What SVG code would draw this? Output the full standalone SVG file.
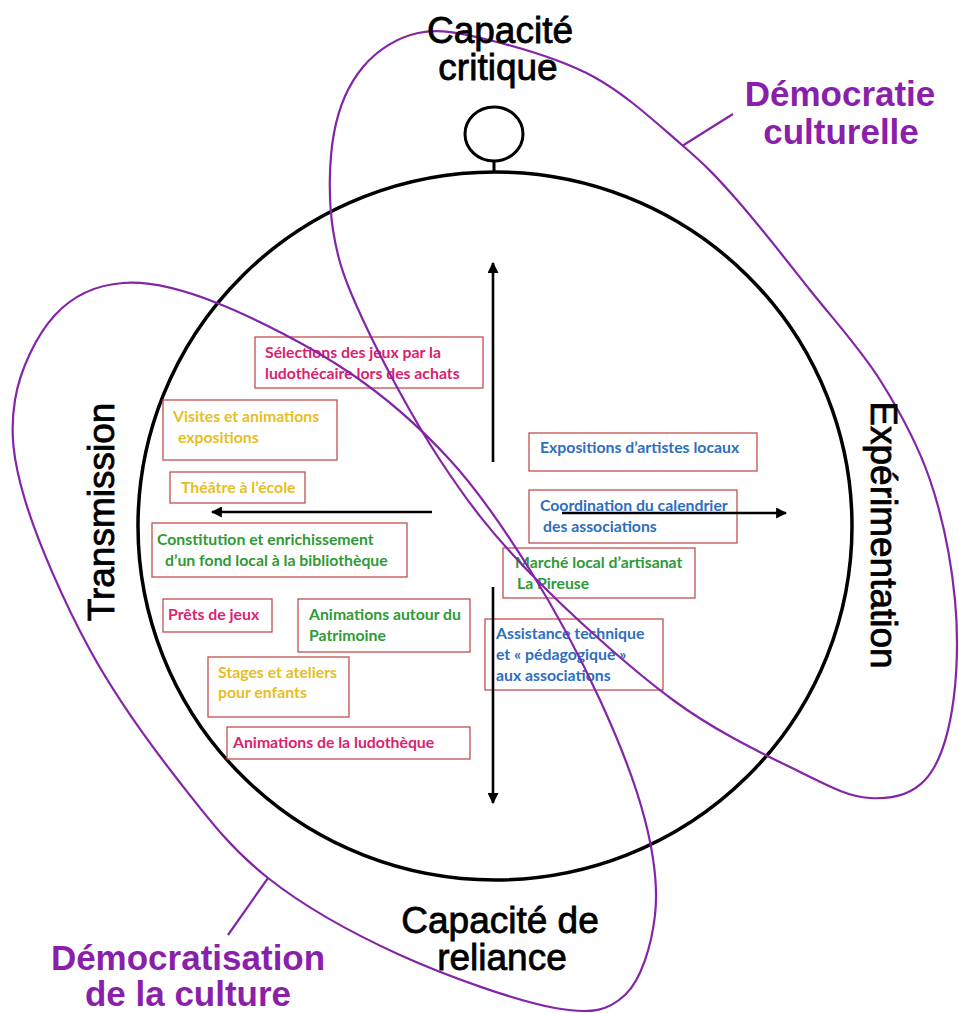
<svg xmlns="http://www.w3.org/2000/svg" width="959" height="1013" viewBox="0 0 959 1013">
<style>
.bg{fill:#ffffff}
.ring{fill:none;stroke:#000;stroke-width:3.5}
.axis{fill:none;stroke:#000;stroke-width:2.6}
.loop{fill:none;stroke:#8424a8;stroke-width:2.2}
.box{fill:#ffffff;stroke:#c0504d;stroke-width:1.3}
.bt{font-family:Lato,"Open Sans","Liberation Sans",sans-serif;font-weight:bold;font-size:15.8px}
.mag{fill:#d9236f}
.yel{fill:#e6be23}
.grn{fill:#2f9a36}
.blu{fill:#2e6ebf}
.lab{font-family:"Liberation Sans",Arial,sans-serif;font-size:37px;fill:#000;stroke:#000;stroke-width:0.8;text-anchor:middle}
.plab{font-family:"Liberation Sans",Arial,sans-serif;font-size:35px;font-weight:bold;fill:#8a1fab;text-anchor:middle}
</style>
<defs>
<marker id="ah" viewBox="0 0 10 10" refX="9" refY="5" markerWidth="11" markerHeight="11" markerUnits="userSpaceOnUse" orient="auto">
<path d="M0,0 L10,5 L0,10 Z" fill="#000"/>
</marker>
</defs>
<rect class="bg" x="0" y="0" width="959" height="1013"/>

<g id="main-circle">
<ellipse class="ring" cx="495" cy="526" rx="357" ry="354"/>
<ellipse class="ring" cx="494" cy="134" rx="29" ry="27" style="stroke-width:3"/>
<line class="ring" x1="494" y1="161" x2="494" y2="172" style="stroke-width:3"/>
</g>

<g id="box-selections">
<rect class="box" x="255" y="337" width="228" height="51"/>
<text class="bt mag" x="265" y="358">Sélections des jeux par la</text>
<text class="bt mag" x="265" y="379">ludothécaire lors des achats</text>
</g>
<g id="box-visites">
<rect class="box" x="163" y="400" width="174" height="60"/>
<text class="bt yel" x="173" y="422">Visites et animations</text>
<text class="bt yel" x="178" y="443">expositions</text>
</g>
<g id="box-theatre">
<rect class="box" x="170" y="472" width="135" height="31"/>
<text class="bt yel" x="181" y="493">Théâtre à l’école</text>
</g>
<g id="box-constitution">
<rect class="box" x="152" y="523" width="255" height="54"/>
<text class="bt grn" x="157" y="545">Constitution et enrichissement</text>
<text class="bt grn" x="165" y="566">d’un fond local à la bibliothèque</text>
</g>
<g id="box-prets">
<rect class="box" x="163" y="599" width="109" height="33"/>
<text class="bt mag" x="168" y="620">Prêts de jeux</text>
</g>
<g id="box-patrimoine">
<rect class="box" x="298" y="599" width="172" height="53"/>
<text class="bt grn" x="309" y="620">Animations autour du</text>
<text class="bt grn" x="309" y="641">Patrimoine</text>
</g>
<g id="box-stages">
<rect class="box" x="208" y="657" width="141" height="60"/>
<text class="bt yel" x="218" y="678">Stages et ateliers</text>
<text class="bt yel" x="218" y="698">pour enfants</text>
</g>
<g id="box-ludotheque">
<rect class="box" x="227" y="727" width="243" height="32"/>
<text class="bt mag" x="233" y="748">Animations de la ludothèque</text>
</g>
<g id="box-expositions">
<rect class="box" x="529" y="433" width="228" height="38"/>
<text class="bt blu" x="540" y="453">Expositions d’artistes locaux</text>
</g>
<g id="box-coordination">
<rect class="box" x="529" y="490" width="208" height="53"/>
<text class="bt blu" x="540" y="511">Coordination du calendrier</text>
<text class="bt blu" x="543" y="532">des associations</text>
</g>
<g id="box-marche">
<rect class="box" x="503" y="548" width="192" height="50"/>
<text class="bt grn" x="515" y="568">Marché local d’artisanat</text>
<text class="bt grn" x="517" y="589">La Pireuse</text>
</g>
<g id="box-assistance">
<rect class="box" x="485" y="619" width="178" height="71"/>
<text class="bt blu" x="496" y="639">Assistance technique</text>
<text class="bt blu" x="496" y="660">et « pédagogique »</text>
<text class="bt blu" x="496" y="681">aux associations</text>
</g>

<g id="connectors">
<line class="axis" x1="493" y1="462" x2="493" y2="263" marker-end="url(#ah)"/>
<line class="axis" x1="493" y1="587" x2="493" y2="803" marker-end="url(#ah)"/>
<line class="axis" x1="432" y1="512" x2="212" y2="512" marker-end="url(#ah)"/>
<line class="axis" x1="562" y1="513" x2="786" y2="513" marker-end="url(#ah)"/>
<path class="loop" d="M418,33 C439,28.5 459.7,32.7 489,40 C518.3,47.3 561.8,59.5 594,77 C626.2,94.5 658.2,124.5 682,145 C705.8,165.5 715.7,175.8 737,200 C758.3,224.2 786.2,260 810,290 C833.8,320 860,348.3 880,380 C900,411.7 917.5,443.3 930,480 C942.5,516.7 951.3,561.7 955,600 C958.7,638.3 957,680 952,710 C947,740 938.7,765.3 925,780 C911.3,794.7 890.8,799.3 870,798 C849.2,796.7 832.8,788.3 800,772 C767.2,755.7 718,733.2 673,700 C628,666.8 568.8,613 530,573 C491.2,533 467.8,502.2 440,460 C412.2,417.8 380.8,358.3 363,320 C345.2,281.7 337.8,261.2 333,230 C328.2,198.8 329,160.2 334,133 C339,105.8 349,83.7 363,67 C377,50.3 397,37.5 418,33 Z"/>
<path class="loop" d="M123,283 C150,281 179.2,288 217,303 C254.8,318 311.2,346.8 350,373 C388.8,399.2 420,427.2 450,460 C480,492.8 505,530 530,570 C555,610 580.8,658.3 600,700 C619.2,741.7 635.8,784.2 645,820 C654.2,855.8 658.3,885.8 655,915 C651.7,944.2 641.7,979.5 625,995 C608.3,1010.5 592.5,1014.7 555,1008 C517.5,1001.3 447.8,976.7 400,955 C352.2,933.3 305,907.2 268,878 C231,848.8 207.7,818 178,780 C148.3,742 115.5,696.7 90,650 C64.5,603.3 37.5,541.7 25,500 C12.5,458.3 10,430.8 15,400 C20,369.2 37,334.5 55,315 C73,295.5 96,285 123,283 Z"/>
<line class="loop" x1="682" y1="146" x2="733" y2="114"/>
<line class="loop" x1="268" y1="878" x2="228" y2="935"/>
</g>

<g id="label-capacite-critique">
<text class="lab" x="500" y="43">Capacité</text>
<text class="lab" x="498" y="80">critique</text>
</g>
<g id="label-capacite-reliance">
<text class="lab" x="500" y="933">Capacité de</text>
<text class="lab" x="502" y="970">reliance</text>
</g>
<g id="label-transmission">
<text class="lab" transform="translate(114,512) rotate(-90)">Transmission</text>
</g>
<g id="label-experimentation">
<text class="lab" transform="translate(871,535) rotate(90)">Expérimentation</text>
</g>
<g id="label-democratie-culturelle">
<text class="plab" x="840" y="106">Démocratie</text>
<text class="plab" x="841" y="144">culturelle</text>
</g>
<g id="label-democratisation">
<text class="plab" x="188" y="970">Démocratisation</text>
<text class="plab" x="188" y="1006">de la culture</text>
</g>
</svg>
